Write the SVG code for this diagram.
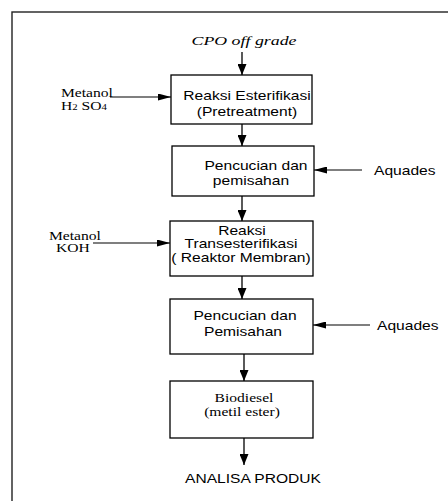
<svg xmlns="http://www.w3.org/2000/svg" width="448" height="501" viewBox="0 0 448 501">
<defs>
<marker id="av" markerWidth="11" markerHeight="9" refX="11" refY="4.5" orient="auto" markerUnits="userSpaceOnUse">
<path d="M0,0 L11,4.5 L0,9 Z" fill="#000"/>
</marker>
<marker id="ahz" markerWidth="13" markerHeight="7" refX="13" refY="3.5" orient="auto" markerUnits="userSpaceOnUse">
<path d="M0,0 L13,3.5 L0,7 Z" fill="#000"/>
</marker>
</defs>
<style>
.box{fill:#fff;stroke:#000;stroke-width:1.3}
.lv{stroke:#000;stroke-width:1.3;fill:none;marker-end:url(#av)}
.lh{stroke:#000;stroke-width:1.2;fill:none;marker-end:url(#ahz)}
.s{font-family:"Liberation Sans",Arial,sans-serif;font-size:13px;fill:#000}
.r{font-family:"Liberation Serif","Times New Roman",serif;font-size:13px;fill:#000}
.c{text-anchor:middle}
</style>
<rect x="0" y="0" width="448" height="501" fill="#fff"/>
<rect id="frame" x="12" y="12" width="460" height="520" fill="none" stroke="#222" stroke-width="1.4"/>
<g id="connectors">
<line class="lv" x1="242" y1="52" x2="242" y2="75"/>
<line class="lh" x1="110" y1="97" x2="171" y2="97"/>
<line class="lv" x1="242" y1="124" x2="242" y2="146"/>
<line class="lh" x1="362" y1="170" x2="314" y2="170"/>
<line class="lv" x1="242" y1="196" x2="242" y2="221"/>
<line class="lh" x1="93" y1="243" x2="170" y2="243"/>
<line class="lv" x1="242" y1="276" x2="242" y2="299"/>
<line class="lh" x1="370" y1="325" x2="313" y2="325"/>
<line class="lv" x1="244" y1="354" x2="244" y2="381"/>
<line class="lv" x1="244" y1="438" x2="244" y2="465"/>
</g>
<g id="cpo"><text class="r c" x="244" y="45" font-size="16" font-style="italic" textLength="105" lengthAdjust="spacingAndGlyphs">CPO off grade</text></g>
<g id="in1"><text class="r" x="61" y="97" font-size="12.5" transform="matrix(1.2 0 0 1 -12.2 0)">Metanol</text><text class="r" x="61" y="110" font-size="12.5" transform="matrix(1.2 0 0 1 -12.2 0)">H<tspan font-size="9">2</tspan> SO<tspan font-size="9">4</tspan></text></g>
<g id="box1"><rect class="box" x="171" y="75" width="141" height="49"/><text class="s c" x="247" y="100" transform="matrix(1.2 0 0 1 -49.4 0)">Reaksi Esterifikasi</text><text class="s c" x="247" y="116" transform="matrix(1.2 0 0 1 -49.4 0)">(Pretreatment)</text></g>
<g id="box2"><rect class="box" x="172" y="146" width="142" height="50"/><text class="s c" x="256" y="170" transform="matrix(1.2 0 0 1 -51.2 0)">Pencucian dan</text><text class="s c" x="251" y="185" transform="matrix(1.2 0 0 1 -50.2 0)">pemisahan</text></g>
<g id="aq1"><text class="s" x="374" y="175" transform="matrix(1.2 0 0 1 -74.8 0)">Aquades</text></g>
<g id="in2"><text class="r" x="49" y="240" font-size="12.5" transform="matrix(1.2 0 0 1 -9.8 0)">Metanol</text><text class="r" x="56" y="252" font-size="12.5" transform="matrix(1.2 0 0 1 -11.2 0)">KOH</text></g>
<g id="box3"><rect class="box" x="170" y="221" width="143" height="55"/><text class="s c" x="242" y="235" transform="matrix(1.2 0 0 1 -48.4 0)">Reaksi</text><text class="s c" x="241" y="248" transform="matrix(1.2 0 0 1 -48.2 0)">Transesterifikasi</text><text class="s c" x="241" y="262" transform="matrix(1.2 0 0 1 -48.2 0)">( Reaktor Membran)</text></g>
<g id="box4"><rect class="box" x="170" y="299" width="143" height="55"/><text class="s c" x="245" y="320" transform="matrix(1.2 0 0 1 -49 0)">Pencucian dan</text><text class="s c" x="243" y="336" transform="matrix(1.2 0 0 1 -48.6 0)">Pemisahan</text></g>
<g id="aq2"><text class="s" x="377" y="330" transform="matrix(1.2 0 0 1 -75.4 0)">Aquades</text></g>
<g id="box5"><rect class="box" x="170" y="381" width="143" height="57"/><text class="r c" x="244" y="402" font-size="13.5" transform="matrix(1.2 0 0 1 -48.8 0)">Biodiesel</text><text class="r c" x="242" y="416" font-size="13.5" transform="matrix(1.2 0 0 1 -48.4 0)">(metil ester)</text></g>
<g id="out"><text class="s c" x="253" y="483" transform="matrix(1.2 0 0 1 -50.6 0)">ANALISA PRODUK</text></g>
</svg>
